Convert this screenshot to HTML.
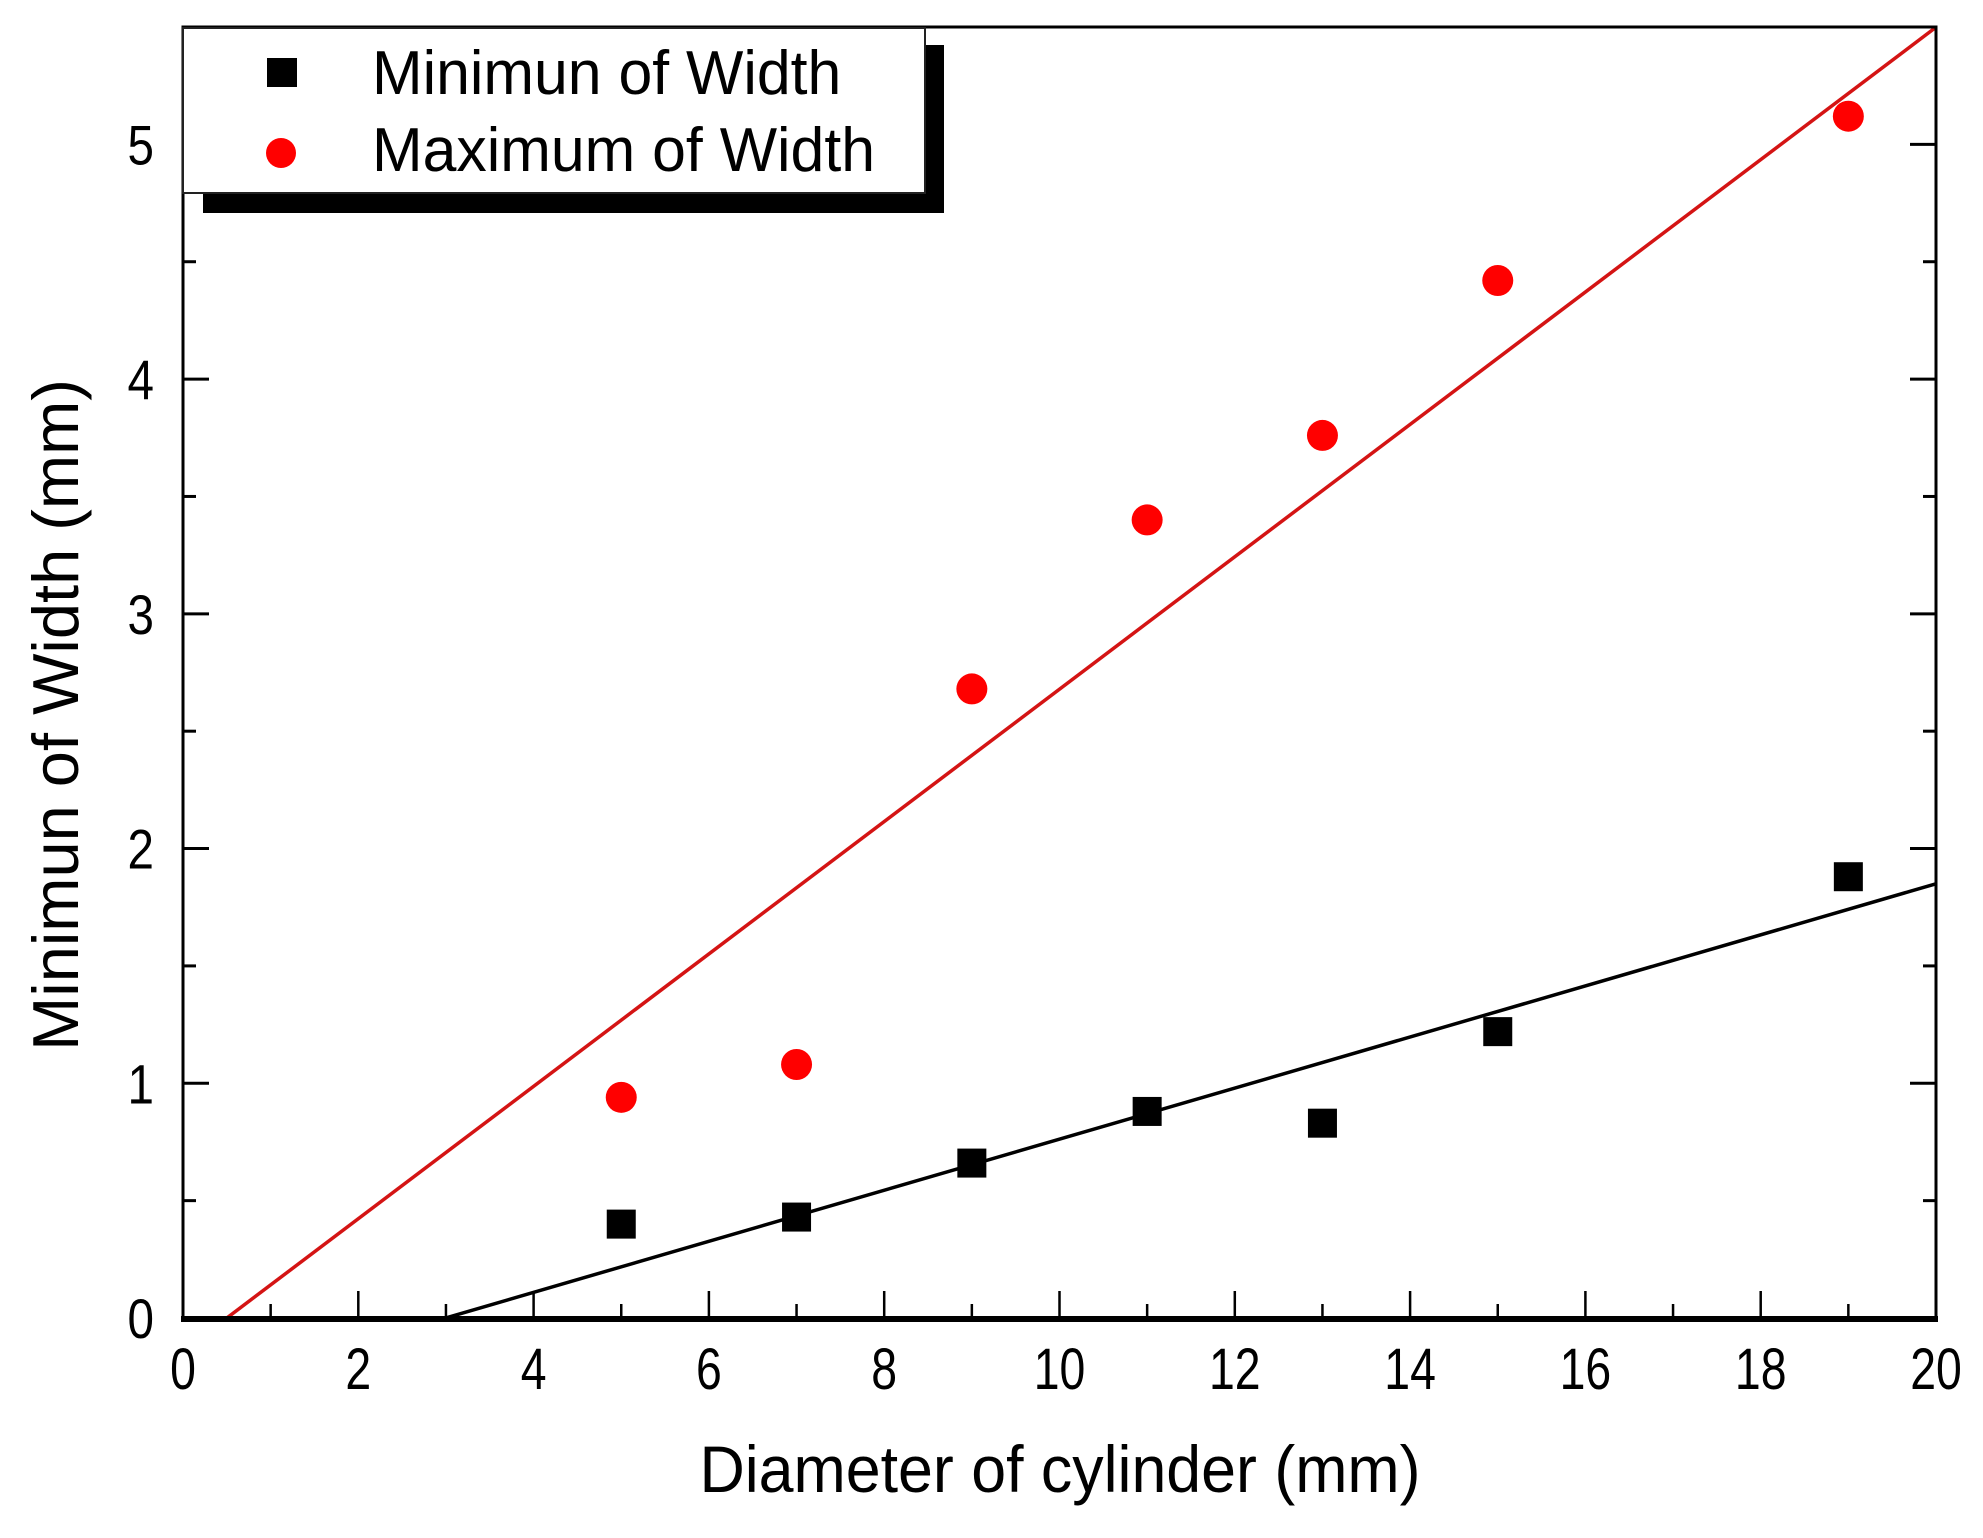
<!DOCTYPE html>
<html><head><meta charset="utf-8"><style>
html,body{margin:0;padding:0;background:#fff;}
svg{display:block;}
text{font-family:"Liberation Sans",Arial,sans-serif;fill:#000;}
</style></head><body>
<svg id="chart" width="1983" height="1538" viewBox="0 0 1983 1538" xmlns="http://www.w3.org/2000/svg">
<g id="plot"></g>
</svg>
<script>
const diameters = [5, 7, 9, 11, 13, 15, 19];
const minWidth = [0.40, 0.43, 0.66, 0.88, 0.83, 1.22, 1.88];
const maxWidth = [0.94, 1.08, 2.68, 3.40, 3.76, 4.42, 5.12];
const minFit = [0.1088, -0.326];
const maxFit = [0.282, -0.141];
const xTickLabels = ["0","2","4","6","8","10","12","14","16","18","20"];
const yTickLabels = ["0","1","2","3","4","5"];

const NS = "http://www.w3.org/2000/svg";
const L = 183, R = 1936, B = 1318, T = 27;
const xMin = 0, xMax = 20, yMin = 0, yMax = 5.5;
function sx(v){ return L + (v - xMin) / (xMax - xMin) * (R - L); }
function sy(v){ return B - (v - yMin) / (yMax - yMin) * (B - T); }
const g = document.getElementById('plot');
function mk(tag, attrs, parent){
  const e = document.createElementNS(NS, tag);
  for (const k in attrs) e.setAttribute(k, attrs[k]);
  (parent || g).appendChild(e);
  return e;
}

const defs = mk('defs', {});
const cp = mk('clipPath', {id:'clip'}, defs);
mk('rect', {x:L, y:T, width:R-L, height:B-T}, cp);

function fitLine(fit, color, name){
  const x0 = Math.max(xMin, -fit[1]/fit[0] - 0.1);
  const ln = mk('line', {x1:sx(x0), y1:sy(fit[0]*x0+fit[1]), x2:sx(xMax), y2:sy(fit[0]*xMax+fit[1]), stroke:color, 'stroke-width':3.5, 'clip-path':'url(#clip)'});
  
  
}
fitLine(maxFit, '#d41414', 'max-width-fit-line');
fitLine(minFit, '#000', 'min-width-fit-line');

diameters.forEach((d, i) => {
  const s = mk('rect', {x:sx(d)-14.5, y:sy(minWidth[i])-14.5, width:29, height:29, fill:'#000'});
  
  
  const c = mk('circle', {cx:sx(d), cy:sy(maxWidth[i]), r:15.5, fill:'#ff0000'});
  
  
});

const fr = mk('rect', {x:L, y:T, width:R-L, height:B-T, fill:'none', stroke:'#000', 'stroke-width':3});


const xa = mk('line', {x1:L-2, y1:B+1, x2:R+2, y2:B+1, stroke:'#000', 'stroke-width':6});



for (let v = 0; v <= 20; v++){
  const len = v % 2 === 0 ? 27 : 14;
  const t = mk('line', {x1:sx(v), y1:B, x2:sx(v), y2:B-len, stroke:'#000', 'stroke-width':2.5});
  
  
}
xTickLabels.forEach((lab, i) => {
  const t = mk('text', {x:0, y:0, 'font-size':58, 'text-anchor':'middle', transform:'translate(' + sx(i*2) + ',1389) scale(0.8,1)'});
  t.textContent = lab;
  
  
});
for (let k = 0; k <= 11; k++){
  const v = k * 0.5;
  const len = k % 2 === 0 ? 26 : 13;
  const a = mk('line', {x1:L, y1:sy(v), x2:L+len, y2:sy(v), stroke:'#000', 'stroke-width':3});
  
  
  const b = mk('line', {x1:R, y1:sy(v), x2:R-len, y2:sy(v), stroke:'#000', 'stroke-width':3});
  
  
}
yTickLabels.forEach((lab, i) => {
  const t = mk('text', {x:0, y:0, 'font-size':56, 'text-anchor':'end', transform:'translate(154,' + (sy(i)+20) + ') scale(0.85,1)'});
  t.textContent = lab;
  
  
});
const xt = mk('text', {x:0, y:0, 'font-size':66, 'text-anchor':'middle', transform:'translate(1060,1492) scale(0.95,1)'});
xt.textContent = 'Diameter of cylinder (mm)';


const yt = mk('text', {x:0, y:0, 'font-size':65, 'text-anchor':'middle', transform:'translate(78,715) rotate(-90)'});
yt.textContent = 'Minimun of Width (mm)';



const lg = mk('g', {});


mk('rect', {x:203, y:45, width:741, height:168, fill:'#000'}, lg);
mk('rect', {x:183, y:28, width:742, height:165, fill:'#fff', stroke:'#222', 'stroke-width':2}, lg);
const ls = mk('rect', {x:267, y:58, width:30, height:29, fill:'#000'}, lg);


const lc = mk('circle', {cx:281, cy:153, r:15, fill:'#ff0000'}, lg);


const l1 = mk('text', {x:0, y:0, 'font-size':62, transform:'translate(372,94) scale(0.98,1)'}, lg);
l1.textContent = 'Minimun of Width';


const l2 = mk('text', {x:0, y:0, 'font-size':62, transform:'translate(372,171) scale(0.98,1)'}, lg);
l2.textContent = 'Maximum of Width';


</script>
</body></html>
